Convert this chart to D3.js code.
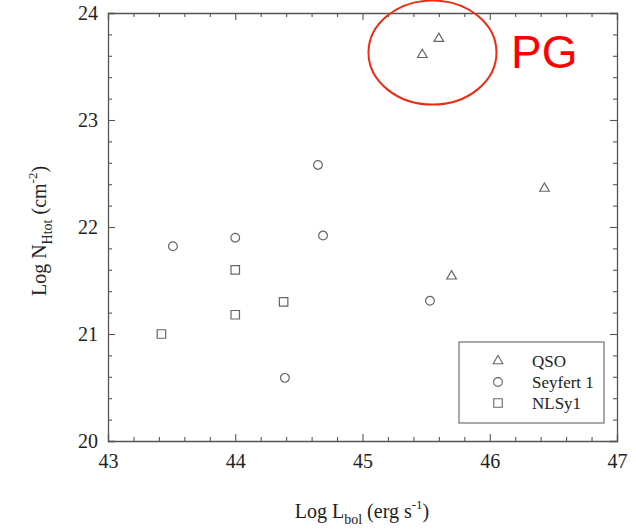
<!DOCTYPE html>
<html>
<head>
<meta charset="utf-8">
<script src="https://cdn.jsdelivr.net/npm/d3@7"></script>
<style>
  html, body { margin: 0; padding: 0; background: #fff; }
  svg { display: block; }
</style>
</head>
<body>
<svg id="chart" width="636" height="530"></svg>
<script>
// ---- data ----
const qsoX = [45.60, 45.47, 46.43, 45.70];
const qsoY = [23.76, 23.61, 22.36, 21.54];
const seyX = [43.51, 44.00, 44.65, 44.69, 45.53, 44.39];
const seyY = [21.82, 21.90, 22.58, 21.92, 21.31, 20.59];
const nlsX = [43.42, 44.00, 44.00, 44.38];
const nlsY = [21.00, 21.60, 21.18, 21.30];
const xTicks = [43, 44, 45, 46, 47];
const yTicks = [20, 21, 22, 23, 24];
const legendLabels = ["QSO", "Seyfert 1", "NLSy1"];
const highlightX = [45.55];   // centre of the "PG" ellipse
const highlightY = [23.63];
const highlightLabel = "PG";

// ---- layout ----
const L = 108, R = 617, T = 13, B = 441;
const svg = d3.select("#chart");
const x = d3.scaleLinear().domain([43, 47]).range([L, R]);
const y = d3.scaleLinear().domain([20, 24]).range([B, T]);
const axisColor = "#555";
const markColor = "#666";
const serif = "'Liberation Serif', 'Times New Roman', serif";

const minorX = d3.range(43, 47.0001, 0.2).map(v => +v.toFixed(1)).filter(v => !xTicks.includes(v));
const minorY = d3.range(20, 24.0001, 0.2).map(v => +v.toFixed(1)).filter(v => !yTicks.includes(v));

function styleAxis(g, labels) {
  g.attr("font-family", null).attr("font-size", null);
  g.select(".domain").attr("stroke", axisColor).attr("stroke-width", 1.3);
  g.selectAll(".tick line").attr("stroke", axisColor).attr("stroke-width", 1.1);
  g.selectAll(".tick text").attr("fill", "#222").style("font-family", serif).style("font-size", "20px");
  if (!labels) g.selectAll(".tick text").remove();
}

// bottom
svg.append("g").attr("transform", `translate(0,${B})`)
  .call(d3.axisBottom(x).tickValues(xTicks).tickSize(-7).tickPadding(13).tickFormat(d3.format("d")))
  .call(g => styleAxis(g, true));
svg.append("g").attr("transform", `translate(0,${B})`)
  .call(d3.axisBottom(x).tickValues(minorX).tickSize(-4).tickFormat(""))
  .call(g => { styleAxis(g, false); g.select(".domain").remove(); });
// top
svg.append("g").attr("transform", `translate(0,${T})`)
  .call(d3.axisTop(x).tickValues(xTicks).tickSize(-7).tickFormat(""))
  .call(g => styleAxis(g, false));
svg.append("g").attr("transform", `translate(0,${T})`)
  .call(d3.axisTop(x).tickValues(minorX).tickSize(-4).tickFormat(""))
  .call(g => { styleAxis(g, false); g.select(".domain").remove(); });
// left
svg.append("g").attr("transform", `translate(${L},0)`)
  .call(d3.axisLeft(y).tickValues(yTicks).tickSize(-7).tickPadding(10).tickFormat(d3.format("d")))
  .call(g => styleAxis(g, true));
svg.append("g").attr("transform", `translate(${L},0)`)
  .call(d3.axisLeft(y).tickValues(minorY).tickSize(-4).tickFormat(""))
  .call(g => { styleAxis(g, false); g.select(".domain").remove(); });
// right
svg.append("g").attr("transform", `translate(${R},0)`)
  .call(d3.axisRight(y).tickValues(yTicks).tickSize(-7).tickFormat(""))
  .call(g => styleAxis(g, false));
svg.append("g").attr("transform", `translate(${R},0)`)
  .call(d3.axisRight(y).tickValues(minorY).tickSize(-4).tickFormat(""))
  .call(g => { styleAxis(g, false); g.select(".domain").remove(); });

// ---- markers ----
const triSym = d3.symbol().type(d3.symbolTriangle).size(40);
const cirSym = d3.symbol().type(d3.symbolCircle).size(60);
const sqSym = d3.symbol().type(d3.symbolSquare).size(72);
function drawMarks(xs, ys, sym) {
  svg.append("g").selectAll("path").data(xs.map((v, i) => [v, ys[i]])).join("path")
    .attr("d", sym)
    .attr("transform", d => `translate(${x(d[0])},${y(d[1])})`)
    .attr("fill", "none").attr("stroke", markColor).attr("stroke-width", 1.2);
}
drawMarks(qsoX, qsoY, triSym);
drawMarks(seyX, seyY, cirSym);
drawMarks(nlsX, nlsY, sqSym);

// ---- legend ----
const lg = svg.append("g");
lg.append("rect").attr("x", 459).attr("y", 342).attr("width", 145).attr("height", 81)
  .attr("fill", "#fff").attr("stroke", axisColor).attr("stroke-width", 1);
const syms = [triSym, cirSym, sqSym];
legendLabels.forEach((lab, i) => {
  const cy = 361 + i * 21;
  lg.append("path").attr("d", syms[i]).attr("transform", `translate(498,${cy})`)
    .attr("fill", "none").attr("stroke", markColor).attr("stroke-width", 1.1);
  lg.append("text").attr("x", 532).attr("y", cy + 6).text(lab)
    .style("font-family", serif).style("font-size", "17px").attr("fill", "#222");
});

// ---- axis titles ----
const xt = svg.append("text").attr("x", 362).attr("y", 518).attr("text-anchor", "middle")
  .style("font-family", serif).style("font-size", "20px").attr("fill", "#222");
xt.append("tspan").text("Log L");
xt.append("tspan").attr("dy", 6).style("font-size", "14px").text("bol");
xt.append("tspan").attr("dy", -6).text(" (erg s");
xt.append("tspan").attr("dy", -9).style("font-size", "13px").text("-1");
xt.append("tspan").attr("dy", 9).text(")");

const yt = svg.append("text").attr("transform", `translate(46,${(T + B) / 2 + 4}) rotate(-90)`)
  .attr("text-anchor", "middle")
  .style("font-family", serif).style("font-size", "20px").attr("fill", "#222");
yt.append("tspan").text("Log N");
yt.append("tspan").attr("dy", 6).style("font-size", "14px").text("Htot");
yt.append("tspan").attr("dy", -6).text(" (cm");
yt.append("tspan").attr("dy", -9).style("font-size", "13px").text("-2");
yt.append("tspan").attr("dy", 9).text(")");

// ---- PG highlight ----
svg.append("ellipse").attr("cx", x(highlightX[0])).attr("cy", y(highlightY[0]))
  .attr("rx", 64).attr("ry", 52).attr("fill", "none").attr("stroke", "#ee2a10").attr("stroke-width", 2);
svg.append("text").attr("x", 511).attr("y", 68).text(highlightLabel)
  .style("font-family", "'Liberation Sans', Arial, sans-serif").style("font-size", "46px").attr("fill", "#ff0000");
</script>
</body>
</html>
